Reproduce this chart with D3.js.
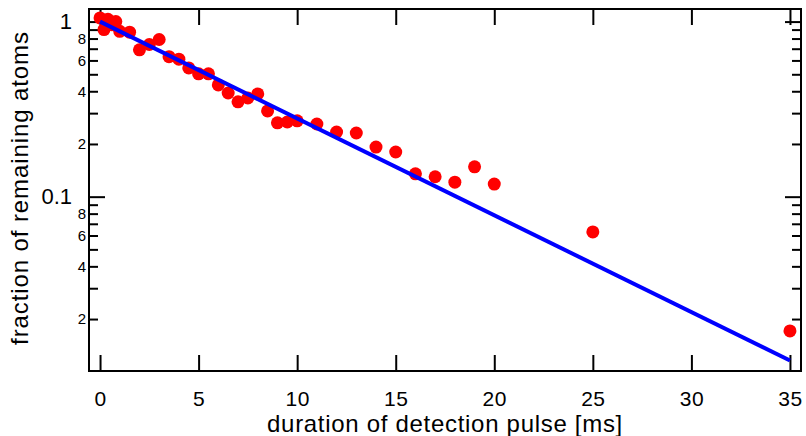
<!doctype html>
<html>
<head>
<script src="https://d3js.org/d3.v7.min.js"></script>
<style>
  body { margin: 0; background: #fff; }
  text { font-family: "Liberation Sans", Arial, sans-serif; fill: #000; }
</style>
</head>
<body>
<div id="chart"></div>
<script>
var pulseMs = [0, 0.2, 0.4, 0.6, 0.8, 1, 1.5, 2, 2.5, 3, 3.5, 4, 4.5, 5, 5.5, 6, 6.5, 7, 7.5, 8,
               8.5, 9, 9.5, 10, 11, 12, 13, 14, 15, 16, 17, 18, 19, 20, 25, 35];
var remaining = [1.05, 0.90, 1.03, 0.96, 1.0, 0.88, 0.87, 0.69, 0.74, 0.79, 0.63, 0.61, 0.544, 0.503, 0.503, 0.435, 0.391, 0.348, 0.366, 0.386,
                 0.309, 0.264, 0.267, 0.271, 0.260, 0.234, 0.231, 0.192, 0.180, 0.135, 0.130, 0.121, 0.148, 0.118, 0.0629, 0.0171];

// exponential fit (straight line on the log axis)
var fitMs = [0, 35];
var fitValues = [1.0, 0.0116];

// axis ticks
var xTicks = [0, 5, 10, 15, 20, 25, 30, 35];
var yMajor = [0.1, 1];
var yMinor = [0.02, 0.03, 0.04, 0.05, 0.06, 0.07, 0.08, 0.09, 0.2, 0.3, 0.4, 0.5, 0.6, 0.7, 0.8, 0.9];
var yMinorLabelled = [0.02, 0.04, 0.06, 0.08, 0.2, 0.4, 0.6, 0.8];

var margin = {top: 9, right: 5, bottom: 65, left: 89},
    width = 806 - margin.left - margin.right,
    height = 436 - margin.top - margin.bottom;

var svg = d3.select("#chart")
  .append("svg")
    .attr("width", width + margin.left + margin.right)
    .attr("height", height + margin.top + margin.bottom)
  .append("g")
    .attr("transform", "translate(" + margin.left + "," + margin.top + ")");

var x = d3.scaleLinear().domain([-0.56, 35.56]).range([0, width]);
var y = d3.scaleLog().domain([0.0101, 1.18]).range([height, 0]);

function styleAxis(g) {
  g.select(".domain").remove();
  g.selectAll(".tick line").attr("stroke", "#000").attr("stroke-width", 2);
}

// bottom + top
svg.append("g")
  .attr("transform", "translate(0," + height + ")")
  .call(d3.axisBottom(x).tickValues(xTicks).tickSize(-16).tickPadding(20))
  .call(styleAxis)
  .selectAll("text").style("font-size", "21px").style("letter-spacing", "0.5px");

svg.append("g")
  .call(d3.axisTop(x).tickValues(xTicks).tickSize(-16).tickFormat(""))
  .call(styleAxis);

// left: major and minor ticks
svg.append("g")
  .call(d3.axisLeft(y).tickValues(yMajor).tickSize(-16).tickPadding(17)
        .tickFormat(function(d) { return d3.format("")(d); }))
  .call(styleAxis)
  .selectAll("text").style("font-size", "22px");

svg.append("g")
  .call(d3.axisLeft(y).tickValues(yMinor).tickSize(-9).tickPadding(3)
        .tickFormat(function(d) {
          if (yMinorLabelled.indexOf(d) < 0) return "";
          return Math.round(d / Math.pow(10, Math.floor(Math.log10(d) + 1e-9)));
        }))
  .call(styleAxis)
  .selectAll("text").style("font-size", "15px");

// right
svg.append("g")
  .attr("transform", "translate(" + width + ",0)")
  .call(d3.axisRight(y).tickValues(yMajor).tickSize(-16).tickFormat(""))
  .call(styleAxis);
svg.append("g")
  .attr("transform", "translate(" + width + ",0)")
  .call(d3.axisRight(y).tickValues(yMinor).tickSize(-9).tickFormat(""))
  .call(styleAxis);

// frame
svg.append("rect")
  .attr("width", width).attr("height", height)
  .attr("fill", "none").attr("stroke", "#000").attr("stroke-width", 2);

// data points
svg.selectAll("circle")
  .data(pulseMs)
  .enter()
  .append("circle")
    .attr("cx", function(d) { return x(d); })
    .attr("cy", function(d, i) { return y(remaining[i]); })
    .attr("r", 6.5)
    .attr("fill", "#ff0000");

// fit line
var line = d3.line()
  .x(function(d) { return x(d); })
  .y(function(d, i) { return y(fitValues[i]); });
svg.append("path")
  .datum(fitMs)
  .attr("d", line)
  .attr("fill", "none")
  .attr("stroke", "#0000ff")
  .attr("stroke-width", 4);

// axis titles
svg.append("text")
  .attr("text-anchor", "middle")
  .attr("x", width / 2)
  .attr("y", height + 60.5)
  .style("font-size", "24px")
  .style("letter-spacing", "0.7px")
  .text("duration of detection pulse [ms]");

svg.append("text")
  .attr("text-anchor", "middle")
  .attr("transform", "translate(-61," + (height / 2 - 2) + ") rotate(-90)")
  .style("font-size", "24px")
  .style("letter-spacing", "0.9px")
  .text("fraction of remaining atoms");
</script>
</body>
</html>
